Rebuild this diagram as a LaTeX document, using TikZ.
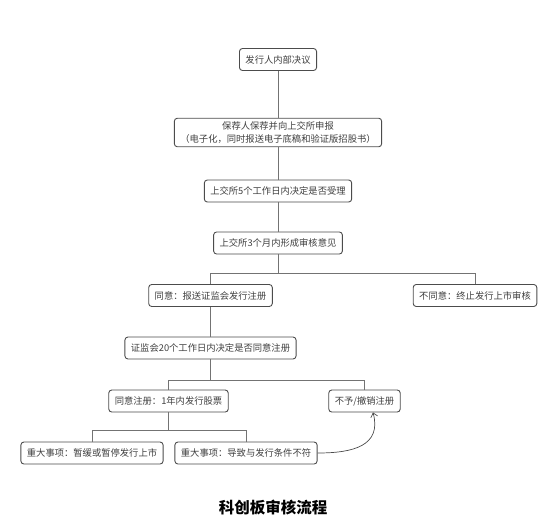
\documentclass[tikz,border=0pt]{standalone}
\usepackage{fontspec}
\usetikzlibrary{arrows.meta}
\newfontfamily\cjk{Noto Sans CJK SC}

\begin{document}
\begin{tikzpicture}[x=1pt, y=-1pt,
  main/.style = {draw=black!70, rounded corners=3pt, line width=0.9pt, fill=white, inner xsep=6pt, minimum height=22pt, text=black!75, font=\cjk\fontsize{9.3}{13}\selectfont},
  link/.style = {draw=black!55, line width=0.7pt}]
\useasboundingbox (0,0) rectangle (553,527);
\node[main] (1) at (278,59.5) {发行人内部决议};
\node[main, align=center] (2) at (278,132.5) {保荐人保荐并向上交所申报\\（电子化，同时报送电子底稿和验证版招股书）};
\node[main] (3) at (278,191) {上交所5个工作日内决定是否受理};
\node[main] (4) at (278,243) {上交所3个月内形成审核意见};
\node[main] (5) at (210.5,295.5) {同意：报送证监会发行注册};
\node[main] (6) at (475,295.5) {不同意：终止发行上市审核};
\node[main] (7) at (210.5,348) {证监会20个工作日内决定是否同意注册};
\node[main] (8) at (168.5,401) {同意注册：1年内发行股票};
\node[main] (9) at (364.5,401) {不予/撤销注册};
\node[main] (10) at (92,453) {重大事项：暂缓或暂停发行上市};
\node[main] (11) at (246,453) {重大事项：导致与发行条件不符};
\node (title) at (273,508) {\cjk\bfseries\fontsize{15.5}{18}\selectfont 科创板审核流程};
\coordinate (b1) at (278,273);
\coordinate (b2) at (210.5,380);
\coordinate (b3) at (168.5,430);
\draw[link] (1) -- (2);
\draw[link] (2) -- (3);
\draw[link] (3) -- (4);
\draw[link] (4) -- (b1) -| (5);
\draw[link] (b1) -| (6);
\draw[link] (5) -- (7);
\draw[link] (7) -- (b2) -| (8);
\draw[link] (b2) -| (9);
\draw[link] (8) -- (b3) -| (10);
\draw[link] (b3) -| (11);
\draw[link, draw=black!70, -{Straight Barb[length=4pt, width=7pt]}] (11.east) to[out=0, in=-75, looseness=1.3] ([xshift=8.5pt]9.south);
\end{tikzpicture}
\end{document}
